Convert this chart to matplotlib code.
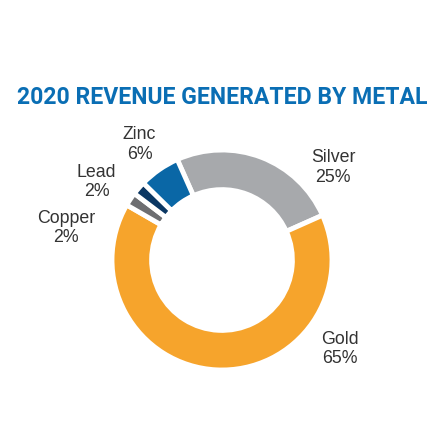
import matplotlib.pyplot as plt

# data
metals = ["Silver", "Gold", "Copper", "Lead", "Zinc"]
shares = [25, 65, 2, 2, 6]
colors = ["#a7a9ac", "#f6a42c", "#6d6e71", "#0b3763", "#0a67a6"]
# label anchor (data coords, pie radius = 1)
label_pos = [(1.01, 0.84), (1.07, -0.81), (-1.42, 0.29), (-1.14, 0.71), (-0.75, 1.05)]

W, H = 446, 446
cx, cy, R = 222, 260, 110

fig = plt.figure(figsize=(W / 100, H / 100), dpi=100)
fig.patch.set_facecolor("white")
ax = fig.add_axes([(cx - R) / W, (H - cy - R) / H, 2 * R / W, 2 * R / H])
ax.pie(shares, colors=colors, startangle=114, counterclock=False, radius=1,
       wedgeprops=dict(width=0.36, edgecolor="white", linewidth=3.5))
ax.set_xlim(-1, 1)
ax.set_ylim(-1, 1)
ax.set_aspect("equal")
ax.axis("off")

for name, val, (x, y) in zip(metals, shares, label_pos):
    ax.text(x, y, f"{name}\n{val}%", ha="center", va="center", fontsize=12.8,
            color="#333333", linespacing=1.2, family="Liberation Sans", clip_on=False)

fig.text(222 / W, 1 - 98 / H, "2020 REVENUE GENERATED BY METAL", ha="center", va="center",
         fontsize=16.6, fontweight="bold", color="#0a6eb4", family="Roboto")

fig.savefig("out.png", dpi=100)
